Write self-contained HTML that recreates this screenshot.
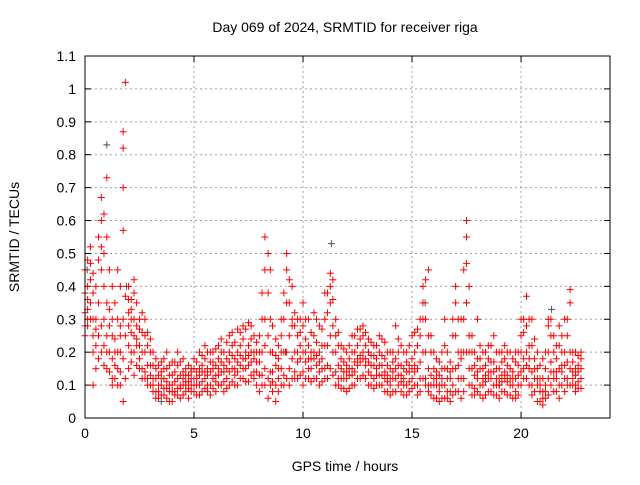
<!DOCTYPE html>
<html><head><meta charset="utf-8"><style>
body{margin:0;background:#fff}
svg text{font-family:"Liberation Sans",sans-serif;font-size:14px;fill:#000}
</style></head><body>
<svg id="chart" width="640" height="480">
<text x="345" y="32" text-anchor="middle">Day 069 of 2024, SRMTID for receiver riga</text>
<text transform="translate(19,237) rotate(-90)" text-anchor="middle">SRMTID / TECUs</text>
<text x="345" y="471" text-anchor="middle">GPS time / hours</text>
<g id="grid"></g>
<g id="ticks"></g>
<g id="marks"></g>
<rect x="85" y="56" width="525" height="362" fill="none" stroke="#000" stroke-width="1"/>
</svg>
<script>
const xTicks=[0,5,10,15,20];
const yTicks=[0,0.1,0.2,0.3,0.4,0.5,0.6,0.7,0.8,0.9,1,1.1];
const yTickLabels=["0","0.1","0.2","0.3","0.4","0.5","0.6","0.7","0.8","0.9","1","1.1"];
const redRows=[
[0.0,[.32,.45,.25,.38,.28]],[0.25,[.47,.35,.42,.3,.52]],[0.5,[.22,.3,.15,.4,.27]],
[0.75,[.6,.45,.67,.28,.2,.52]],[1.0,[.73,.55,.35,.2,.25,.15]],[1.25,[.3,.18,.12,.25,.4,.1]],
[1.5,[.2,.15,.3,.45,.1]],[1.75,[.57,.7,.82,.87,.3,.18,.05]],[1.85,[1.02,.37,.25,.12]],
[2.0,[.4,.32,.22,.15,.28,.36]],[2.25,[.38,.3,.2,.25,.13,.42]],[2.5,[.3,.22,.18,.27,.15]],
[2.75,[.25,.2,.14,.3,.12]],[3.0,[.2,.13,.1,.24,.16]],[3.25,[.12,.08,.15,.18,.06]],
[3.5,[.1,.14,.07,.17,.12]],[3.75,[.11,.15,.09,.2,.06]],[4.0,[.13,.08,.17,.1,.05]],
[4.25,[.12,.16,.09,.2,.07]],[4.5,[.1,.14,.18,.07,.12]],[4.75,[.13,.09,.16,.11,.06]],
[5.0,[.12,.18,.08,.15,.1]],[5.25,[.15,.1,.2,.13,.07]],[5.5,[.18,.12,.22,.09,.14]],
[5.75,[.14,.2,.1,.17,.07]],[6.0,[.16,.21,.11,.13,.08]],[6.25,[.2,.14,.1,.24,.17]],
[6.5,[.18,.12,.23,.15,.09]],[6.75,[.22,.15,.11,.19,.26]],[7.0,[.2,.14,.27,.1,.17]],
[7.25,[.24,.18,.12,.28,.15]],[7.5,[.22,.16,.11,.29,.19]],[7.75,[.25,.18,.12,.2,.14]],
[8.0,[.2,.13,.08,.25,.17]],[8.25,[.45,.3,.15,.1,.22,.55]],[8.4,[.5,.38,.25,.12,.06]],
[8.6,[.2,.14,.08,.28,.11]],[8.75,[.16,.1,.05,.24,.19]],[9.0,[.25,.15,.1,.3,.2]],
[9.25,[.45,.35,.2,.12,.5]],[9.5,[.4,.28,.18,.3,.12]],[9.75,[.25,.17,.12,.3,.2]],
[10.0,[.28,.2,.14,.35,.1]],[10.25,[.22,.15,.3,.12,.18]],[10.5,[.25,.18,.32,.12,.2]],
[10.75,[.2,.14,.28,.1,.17]],[11.0,[.3,.22,.15,.38,.12]],[11.25,[.44,.35,.25,.15,.4]],
[11.5,[.3,.2,.14,.1,.25]],[11.75,[.18,.12,.22,.15,.09]],[12.0,[.16,.12,.2,.08,.14]],
[12.25,[.2,.15,.25,.1,.13]],[12.5,[.22,.16,.12,.27,.18]],[12.75,[.25,.18,.13,.28,.2]],
[13.0,[.2,.14,.1,.24,.17]],[13.25,[.16,.12,.22,.09,.19]],[13.5,[.2,.13,.1,.25,.16]],
[13.75,[.18,.12,.23,.08,.14]],[14.0,[.15,.1,.2,.07,.12]],[14.25,[.28,.18,.12,.08,.15]],
[14.5,[.16,.11,.22,.08,.13]],[14.75,[.14,.1,.2,.07,.17]],[15.0,[.18,.12,.25,.09,.15]],
[15.25,[.22,.15,.1,.27,.07]],[15.5,[.4,.3,.2,.12,.35]],[15.75,[.45,.25,.15,.08,.1]],
[16.0,[.15,.1,.2,.06,.12]],[16.25,[.13,.08,.17,.05,.1]],[16.5,[.3,.15,.1,.06,.22]],
[16.75,[.12,.08,.17,.05,.14]],[17.0,[.4,.25,.15,.08,.35]],[17.25,[.3,.2,.12,.06,.18]],
[17.5,[.6,.55,.47,.35,.2]],[17.75,[.25,.15,.1,.2,.07]],[18.0,[.3,.18,.12,.08,.14]],
[18.25,[.15,.1,.2,.06,.12]],[18.5,[.18,.12,.08,.22,.14]],[18.75,[.14,.1,.25,.07,.17]],
[19.0,[.15,.1,.2,.06,.12]],[19.25,[.18,.12,.08,.22,.14]],[19.5,[.15,.1,.2,.07,.12]],
[19.75,[.12,.08,.17,.06,.2]],[20.0,[.2,.14,.25,.1,.3]],[20.25,[.37,.28,.2,.12,.16]],
[20.5,[.22,.14,.1,.3,.07]],[20.75,[.15,.1,.2,.05,.12]],[21.0,[.08,.04,.12,.18,.06]],
[21.25,[.28,.2,.12,.07,.3]],[21.5,[.2,.14,.08,.25,.12]],[21.75,[.22,.15,.1,.28,.06]],
[22.0,[.3,.2,.12,.08,.16]],[22.25,[.39,.35,.2,.1,.15]],[22.5,[.15,.1,.2,.08,.13]],
[22.75,[.18,.12,.15,.09,.2]]
];
const redRowsMid=[
[0.12,[.4,.33,.28,.48,.36,.3]],[0.37,[.3,.25,.38,.2,.44,.1]],[0.62,[.55,.35,.25,.18,.48]],
[0.87,[.5,.62,.4,.3,.22,.16]],[1.12,[.45,.28,.2,.14,.33]],[1.37,[.24,.16,.12,.35,.2]],
[1.62,[.28,.2,.14,.4,.1,.25]],[2.12,[.33,.26,.2,.3,.36,.17]],[2.37,[.28,.22,.35,.16,.24]],
[2.62,[.26,.2,.15,.32,.12]],[2.87,[.22,.16,.12,.26,.1]],[3.12,[.16,.12,.1,.2,.08]],
[3.37,[.13,.1,.08,.16,.06]],[3.62,[.12,.09,.15,.07,.18]],[3.87,[.1,.13,.08,.16,.05]],
[4.12,[.11,.14,.08,.17,.07]],[4.37,[.13,.1,.17,.06,.09]],[4.62,[.11,.15,.08,.13,.1]],
[4.87,[.12,.1,.15,.08,.14]],[5.12,[.14,.1,.17,.07,.12]],[5.37,[.16,.11,.19,.08,.14]],
[5.62,[.15,.2,.1,.13,.08]],[5.87,[.17,.12,.2,.09,.15]],[6.12,[.18,.13,.22,.1,.15]],
[6.37,[.16,.2,.11,.14,.08]],[6.62,[.2,.14,.25,.1,.17]],[6.87,[.18,.13,.23,.1,.15]],
[7.12,[.22,.16,.12,.26,.19]],[7.37,[.2,.15,.27,.11,.18]],[7.62,[.24,.17,.13,.2,.28]],
[7.87,[.2,.14,.1,.23,.17]],[8.12,[.3,.2,.13,.38,.1]],[8.5,[.3,.2,.14,.45,.1]],
[8.87,[.18,.12,.08,.22,.15]],[9.12,[.3,.2,.13,.38,.1]],[9.37,[.35,.25,.15,.42,.1]],
[9.62,[.28,.2,.14,.32,.12]],[9.87,[.26,.18,.13,.22,.3]],[10.12,[.24,.17,.3,.12,.2]],
[10.37,[.2,.15,.26,.11,.18]],[10.62,[.23,.16,.3,.12,.19]],[10.87,[.22,.15,.27,.11,.18]],
[11.12,[.32,.22,.16,.38,.12]],[11.37,[.36,.28,.2,.13,.42]],[11.62,[.22,.16,.12,.26,.1]],
[11.87,[.17,.12,.21,.09,.14]],[12.12,[.18,.13,.22,.09,.15]],[12.37,[.2,.14,.25,.1,.17]],
[12.62,[.24,.17,.12,.27,.19]],[12.87,[.22,.16,.12,.26,.18]],[13.12,[.19,.13,.1,.23,.16]],
[13.37,[.18,.13,.22,.1,.15]],[13.62,[.19,.13,.1,.24,.16]],[13.87,[.16,.11,.2,.08,.13]],
[14.12,[.17,.12,.2,.08,.14]],[14.37,[.2,.13,.1,.24,.16]],[14.62,[.15,.1,.2,.07,.12]],
[14.87,[.16,.11,.22,.08,.14]],[15.12,[.2,.14,.1,.26,.16]],[15.37,[.25,.17,.12,.3,.08]],
[15.62,[.42,.3,.2,.12,.1]],[15.87,[.2,.13,.1,.25,.07]],[16.12,[.14,.1,.18,.06,.12]],
[16.37,[.15,.1,.2,.06,.12]],[16.62,[.2,.12,.08,.15,.06]],[16.87,[.25,.15,.1,.3,.07]],
[17.12,[.3,.2,.12,.08,.16]],[17.37,[.45,.3,.2,.12,.08]],[17.62,[.4,.25,.15,.1,.2]],
[17.87,[.2,.13,.09,.16,.07]],[18.12,[.22,.15,.1,.18,.07]],[18.37,[.16,.11,.2,.07,.13]],
[18.62,[.17,.12,.08,.22,.14]],[18.87,[.15,.1,.2,.07,.12]],[19.12,[.17,.11,.08,.2,.13]],
[19.37,[.16,.11,.07,.2,.13]],[19.62,[.14,.1,.18,.06,.12]],[19.87,[.16,.1,.2,.07,.13]],
[20.12,[.26,.18,.12,.3,.15]],[20.37,[.3,.22,.15,.1,.18]],[20.62,[.18,.12,.08,.24,.15]],
[20.87,[.12,.08,.16,.05,.1]],[21.12,[.15,.1,.2,.06,.08]],[21.37,[.25,.17,.1,.3,.14]],
[21.62,[.18,.12,.08,.22,.14]],[21.87,[.2,.14,.1,.25,.16]],[22.12,[.25,.17,.12,.3,.1]],
[22.37,[.2,.14,.1,.17,.12]],[22.62,[.16,.11,.19,.09,.14]]
];
const grayTimes=[0.1,1.0,11.3,1.9,3.5,9.2,15.6,21.4,17.5,5.0,13.0,19.0];
const grayValues=[.45,.83,.53,.4,.05,.2,.35,.33,.35,.15,.2,.1];

const X0=85,X1=610,Y0=418,Y1=56,XMAX=24.08,YMAX=1.1;
function sx(t){return X0+(t/XMAX)*(X1-X0);}
function sy(v){return Y0-(v/YMAX)*(Y0-Y1);}
const NS="http://www.w3.org/2000/svg";
const grid=document.getElementById('grid'),ticks=document.getElementById('ticks'),marks=document.getElementById('marks');
function mk(tag,attrs,parent){const e=document.createElementNS(NS,tag);for(const k in attrs)e.setAttribute(k,attrs[k]);parent.appendChild(e);return e;}
yTicks.forEach((v,i)=>{
  const y=sy(v);
  if(i>0&&i<yTicks.length-1){const g=mk('line',{x1:X0,x2:X1,y1:y,y2:y,stroke:'#a0a0a0','stroke-dasharray':'2,3'},grid);
  
  }
  mk('line',{x1:X0,x2:X0+6,y1:y,y2:y,stroke:'#000'},ticks);
  mk('line',{x1:X1,x2:X1-6,y1:y,y2:y,stroke:'#000'},ticks);
  const t=mk('text',{x:X0-9,y:y+5,'text-anchor':'end'},ticks);t.textContent=yTickLabels[i];
  
  
});
xTicks.forEach(v=>{
  const x=sx(v);
  if(v>0){const g=mk('line',{x1:x,x2:x,y1:Y0,y2:Y1,stroke:'#a0a0a0','stroke-dasharray':'2,3'},grid);
  
  }
  mk('line',{x1:x,x2:x,y1:Y0,y2:Y0-6,stroke:'#000'},ticks);
  mk('line',{x1:x,x2:x,y1:Y1,y2:Y1+6,stroke:'#000'},ticks);
  const t=mk('text',{x:x,y:Y0+20,'text-anchor':'middle'},ticks);t.textContent=String(v);
  
  
});
function plus(t,v,color,name){
  const x=sx(t),y=sy(v);
  const p=mk('path',{d:`M${x-3.5},${y}H${x+3.5}M${x},${y-3.5}V${y+3.5}`,stroke:color,'stroke-width':1,fill:'none'},marks);
  
  
}
grayTimes.forEach((t,i)=>plus(t,grayValues[i],'#505050','gray-point'));
redRows.forEach(r=>r[1].forEach(v=>plus(r[0],v,'#ff0000','red-point')));
redRowsMid.forEach(r=>r[1].forEach(v=>plus(r[0],v,'#ff0000','red-point')));
</script>
</body></html>
